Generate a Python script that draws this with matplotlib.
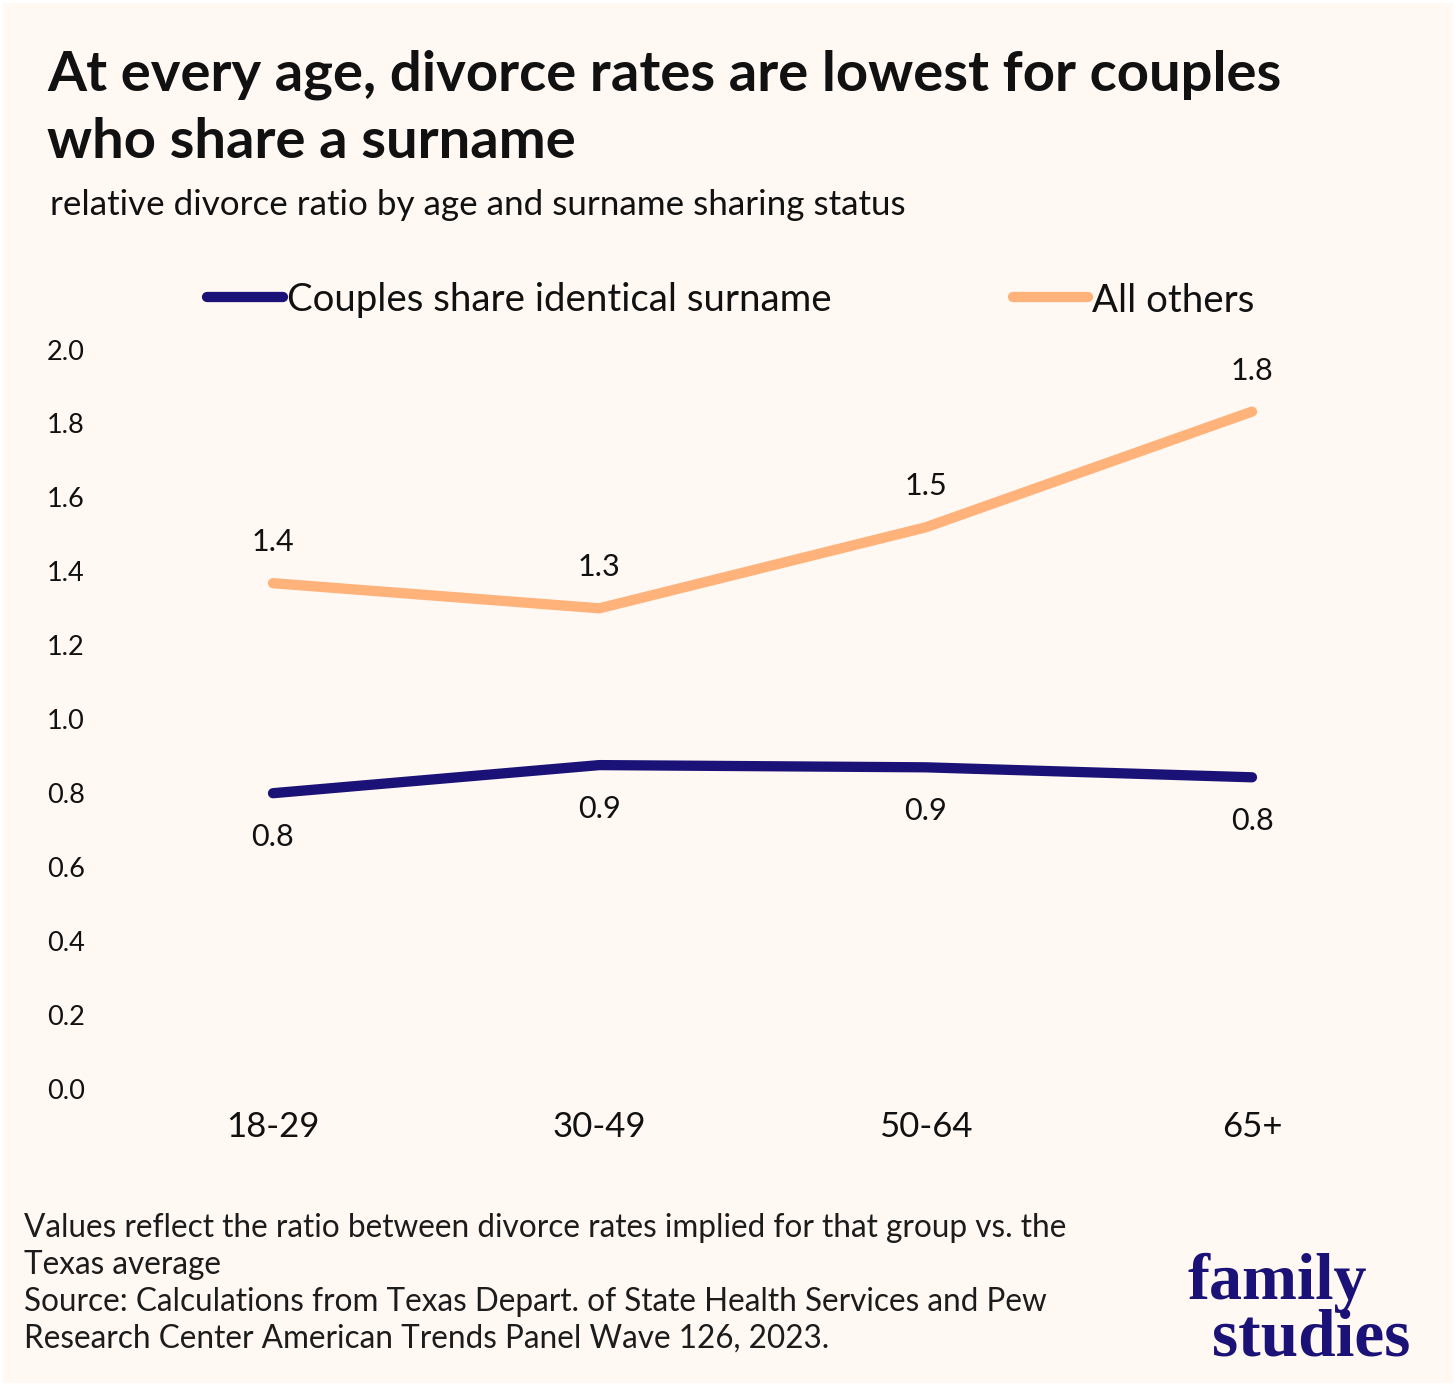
import matplotlib
matplotlib.use('Agg')
import matplotlib.pyplot as plt
from matplotlib.lines import Line2D
from matplotlib.patches import Rectangle

# ---------------- data ----------------
age_groups = ['18-29', '30-49', '50-64', '65+']
shared_surname = [0.80, 0.876, 0.870, 0.843]
all_others = [1.368, 1.30, 1.519, 1.832]
y_ticks = [0.0, 0.2, 0.4, 0.6, 0.8, 1.0, 1.2, 1.4, 1.6, 1.8, 2.0]
series_names = ['Couples share identical surname', 'All others']

title = 'At every age, divorce rates are lowest for couples\nwho share a surname'
subtitle = 'relative divorce ratio by age and surname sharing status'
notes = ['Values reflect the ratio between divorce rates implied for that group vs. the',
         'Texas average',
         'Source: Calculations from Texas Depart. of State Health Services and Pew',
         'Research Center American Trends Panel Wave 126, 2023.']

# ---------------- style ----------------
W, H, DPI = 1456, 1386, 100
BG = '#FFF8F3'
NAVY = '#1B1278'
ORANGE = '#FFB27A'
TXT = '#111111'
FONT = ['Lato', 'DejaVu Sans']
plt.rcParams['font.family'] = FONT

def fx(x):
    return x / W

def fy(y):
    return 1 - y / H

fig = plt.figure(figsize=(W / DPI, H / DPI), dpi=DPI, facecolor='white')
fig.add_artist(Rectangle((fx(3), fy(H - 3)), fx(W - 6), (H - 6) / H,
                         transform=fig.transFigure, facecolor=BG,
                         edgecolor='none', zorder=-10))

# axes geometry (pixels)
ax_left, ax_right = 100, 1420
y_top_px, y_bot_px = 349.5, 1089
x0_px, x3_px = 273, 1252
ax = fig.add_axes([fx(ax_left), fy(y_bot_px), (ax_right - ax_left) / W,
                   (y_bot_px - y_top_px) / H])
ax.set_facecolor('none')
unit = (x3_px - x0_px) / 3
ax.set_xlim(-(x0_px - ax_left) / unit, 3 + (ax_right - x3_px) / unit)
ax.set_ylim(0, 2.0)

xs = list(range(len(age_groups)))
ax.plot(xs, all_others, color=ORANGE, lw=7.4, solid_capstyle='round',
        solid_joinstyle='round', clip_on=False)
ax.plot(xs, shared_surname, color=NAVY, lw=7.4, solid_capstyle='round',
        solid_joinstyle='round', clip_on=False)

for x, v in zip(xs, all_others):
    ax.annotate(f'{v:.1f}', (x, v), xytext=(0, 29.5), textcoords='offset points',
                ha='center', va='center', fontsize=22, color=TXT)
for x, v in zip(xs, shared_surname):
    ax.annotate(f'{v:.1f}', (x, v), xytext=(0, -31.5), textcoords='offset points',
                ha='center', va='center', fontsize=22, color=TXT)

ax.set_yticks(y_ticks)
ax.set_yticklabels([f'{t:.1f}' for t in y_ticks], fontsize=19.5, color=TXT)
ax.set_xticks(xs)
ax.set_xticklabels(age_groups, fontsize=25, color=TXT)
ax.tick_params(axis='y', length=0, pad=11)
ax.tick_params(axis='x', length=0, pad=16)
for s in ax.spines.values():
    s.set_visible(False)

# legend (manual)
leg_items = [(207, 283, 287, NAVY, series_names[0]),
             (1013, 1088, 1092, ORANGE, series_names[1])]
for x1, x2, xt, c, name in leg_items:
    fig.add_artist(Line2D([fx(x1), fx(x2)], [fy(297), fy(297)], color=c, lw=7.4,
                          solid_capstyle='round', transform=fig.transFigure))
    fig.text(fx(xt), fy(297), name, fontsize=27.6, color=TXT, ha='left',
             va='center_baseline')

# title / subtitle
fig.text(fx(47), fy(91), title.split('\n')[0], fontsize=40.5, fontweight='bold',
         color=TXT, ha='left', va='baseline')
fig.text(fx(47), fy(158), title.split('\n')[1], fontsize=40.5, fontweight='bold',
         color=TXT, ha='left', va='baseline')
fig.text(fx(50), fy(215), subtitle, fontsize=25.2, color=TXT, ha='left',
         va='baseline')

# notes
for i, line in enumerate(notes):
    fig.text(fx(24), fy(1237 + 37 * i), line, fontsize=22.7, color='#1c1c1c',
             ha='left', va='baseline')

# logo
fig.text(fx(1188), fy(1299), 'family', fontsize=47.5, fontweight='bold',
         family=['Liberation Serif', 'DejaVu Serif'], color=NAVY, ha='left',
         va='baseline')
fig.text(fx(1212), fy(1356), 'studies', fontsize=48.5, fontweight='bold',
         family=['Liberation Serif', 'DejaVu Serif'], color=NAVY, ha='left',
         va='baseline')

fig.savefig('out.png', dpi=DPI, facecolor=fig.get_facecolor())
